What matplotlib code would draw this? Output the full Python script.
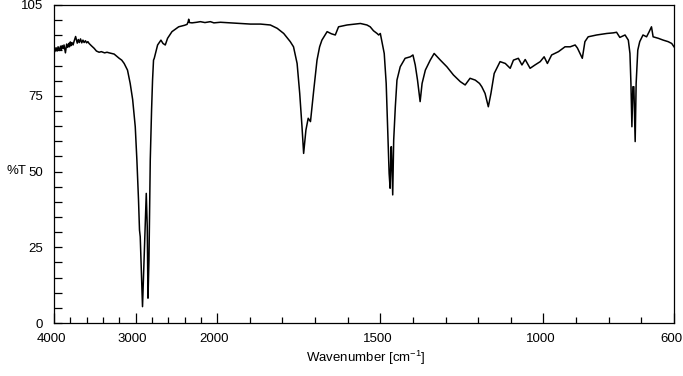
import numpy as np
import matplotlib
matplotlib.use('Agg')
import matplotlib.pyplot as plt
import matplotlib.transforms as mtransforms
from matplotlib.ticker import FixedLocator, NullFormatter

plt.rcParams['font.family'] = ['Liberation Sans', 'DejaVu Sans']
plt.rcParams['mathtext.fontset'] = 'custom'
plt.rcParams['mathtext.rm'] = 'Liberation Sans'

# IR spectrum: wavenumber [cm-1] and %T
wavenumber = [
    4000, 3990, 3975, 3962, 3950, 3935, 3920, 3910, 3900, 3888, 3877, 3860,
    3845, 3832, 3820, 3810, 3800, 3790, 3780, 3766, 3754, 3735, 3715, 3702,
    3690, 3675, 3660, 3645, 3631, 3615, 3600, 3585, 3570, 3540, 3508, 3480,
    3447, 3420, 3380, 3350, 3324, 3263, 3201, 3170, 3140, 3099, 3066, 3036,
    3004, 2984, 2964, 2952, 2943, 2927, 2915, 2890, 2869, 2857, 2848, 2836,
    2820, 2804, 2792, 2780, 2771, 2730, 2689, 2664, 2636, 2608, 2554, 2472,
    2400, 2369, 2355, 2349, 2340, 2308, 2250, 2206, 2150, 2083, 2040, 1990,
    1959, 1928, 1898, 1867, 1837, 1816, 1796, 1776, 1766, 1755, 1747, 1740,
    1735, 1728, 1721, 1714, 1704, 1694, 1686, 1679, 1663, 1650, 1638, 1628,
    1602, 1561, 1541, 1531, 1521, 1510, 1505, 1500, 1495, 1488, 1482, 1477,
    1473, 1470, 1467, 1466, 1462, 1459, 1454, 1449, 1439, 1424, 1408, 1400,
    1393, 1386, 1378, 1372, 1362, 1347, 1335, 1316, 1296, 1276, 1255, 1240,
    1225, 1209, 1196, 1189, 1179, 1169, 1161, 1151, 1133, 1117, 1102, 1092,
    1077, 1066, 1056, 1041, 1026, 1010, 998, 988, 975, 954, 934, 918,
    903, 896, 888, 881, 873, 863, 837, 806, 786, 776, 766, 750,
    740, 735, 732, 729, 726, 723, 719, 716, 711, 705, 695, 684,
    676, 669, 664, 648, 633, 618, 607, 600,
]
transmittance = [
    90.7, 89.6, 90.9, 89.8, 91.2, 90.0, 91.4, 90.3, 91.6, 90.6, 91.8, 89.2,
    92.1, 91.0, 92.3, 91.2, 92.8, 91.6, 92.6, 91.8, 93.0, 94.6, 92.4, 93.6,
    92.6, 93.8, 92.5, 93.4, 92.6, 93.2, 92.5, 92.9, 92.3, 91.5, 90.7, 89.8,
    89.4, 89.6, 89.2, 89.4, 89.2, 88.8, 87.4, 86.8, 85.7, 83.5, 79.1, 73.8,
    64.8, 53.8, 40.6, 30.7, 28.5, 15.3, 5.4, 25.2, 42.8, 31.8, 8.2, 20.8,
    53.8, 70.3, 80.2, 86.8, 87.4, 91.8, 93.4, 92.3, 91.8, 94.0, 96.2, 97.8,
    98.3, 98.6, 99.5, 100.3, 99.2, 99.1, 99.3, 99.5, 99.2, 99.5, 99.1, 99.3,
    99.1, 98.9, 98.7, 98.7, 98.4, 97.3, 95.6, 92.9, 91.2, 85.7, 75.8, 64.8,
    56.0, 63.7, 67.6, 66.5, 76.9, 86.8, 91.2, 93.4, 96.2, 95.5, 95.1, 97.8,
    98.4, 98.9, 98.4, 97.8, 96.5, 95.6, 95.1, 95.6, 92.9, 89.0, 79.1, 62.6,
    49.4, 44.5, 58.2, 58.2, 42.3, 60.4, 71.4, 80.2, 84.6, 87.4, 87.9, 88.5,
    85.2, 80.2, 73.1, 79.1, 83.5, 86.8, 89.0, 86.8, 84.6, 81.9, 79.7, 78.6,
    80.8, 80.2, 79.1, 78.0, 75.8, 71.4, 75.8, 82.4, 86.3, 85.7, 84.1, 86.8,
    87.4, 85.2, 87.0, 84.1, 85.2, 86.3, 87.9, 85.7, 88.5, 89.6, 91.2, 91.2,
    91.8, 90.8, 89.0, 87.4, 92.9, 94.5, 95.1, 95.6, 95.8, 96.0, 94.3, 95.1,
    93.4, 89.0, 79.1, 64.8, 78.0, 78.0, 59.9, 79.1, 90.1, 92.9, 95.1, 94.5,
    96.2, 97.8, 94.5, 94.0, 93.4, 92.9, 92.3, 91.2,
]

x_major = [4000, 3000, 2000, 1500, 1000, 600]
x_minor = [3800, 3600, 3400, 3200, 2800, 2600, 2400, 2200,
           1900, 1800, 1700, 1600, 1400, 1300, 1200, 1100,
           900, 800, 700]
y_major = [0, 25, 50, 75, 105]


def fwd(w):
    w = np.asarray(w, dtype=float)
    return np.where(w > 2000, 2000 + (w - 2000) / 4.0, w)


def inv(u):
    u = np.asarray(u, dtype=float)
    return np.where(u > 2000, 2000 + (u - 2000) * 4.0, u)


fig = plt.figure(figsize=(6.83, 3.76), dpi=100)
ax = fig.add_axes([54 / 683, 1 - 323 / 376, 620 / 683, 318 / 376])

ax.plot(wavenumber, transmittance, color='black', lw=1.1)

ax.set_xscale('function', functions=(fwd, inv))
ax.set_xlim(4000, 600)
ax.set_ylim(0, 105)

ax.xaxis.set_major_locator(FixedLocator(x_major))
ax.xaxis.set_minor_locator(FixedLocator(x_minor))
ax.set_xticklabels([str(v) for v in x_major])
ax.xaxis.set_minor_formatter(NullFormatter())
ax.yaxis.set_major_locator(FixedLocator(y_major))
ax.yaxis.set_minor_locator(FixedLocator([v for v in range(5, 105, 5) if v not in y_major]))
ax.set_yticklabels([str(v) for v in y_major])

ax.tick_params(axis='both', which='both', direction='in', width=0.9,
               labelsize=9.5, top=False, right=False)
ax.tick_params(axis='x', which='major', length=7.5, pad=7)
ax.tick_params(axis='x', which='minor', length=4.5)
ax.tick_params(axis='y', which='both', length=5.5, pad=8)

# labels in the reference sit a few pixels left of their ticks
shift = mtransforms.ScaledTranslation(-3 / 100, 0, fig.dpi_scale_trans)
for lbl in ax.get_xticklabels():
    lbl.set_transform(lbl.get_transform() + shift)

for s in ax.spines.values():
    s.set_linewidth(0.9)

ax.set_xlabel(r'Wavenumber [cm$^{\mathregular{-1}}$]', fontsize=9.5, va='center')
ax.xaxis.set_label_coords(0.503, -0.11)
ax.set_ylabel('%T', rotation=0, fontsize=9.5, ha='center', va='center')
ax.yaxis.set_label_coords(-0.06, 0.478)

fig.savefig('out.png', dpi=100)
